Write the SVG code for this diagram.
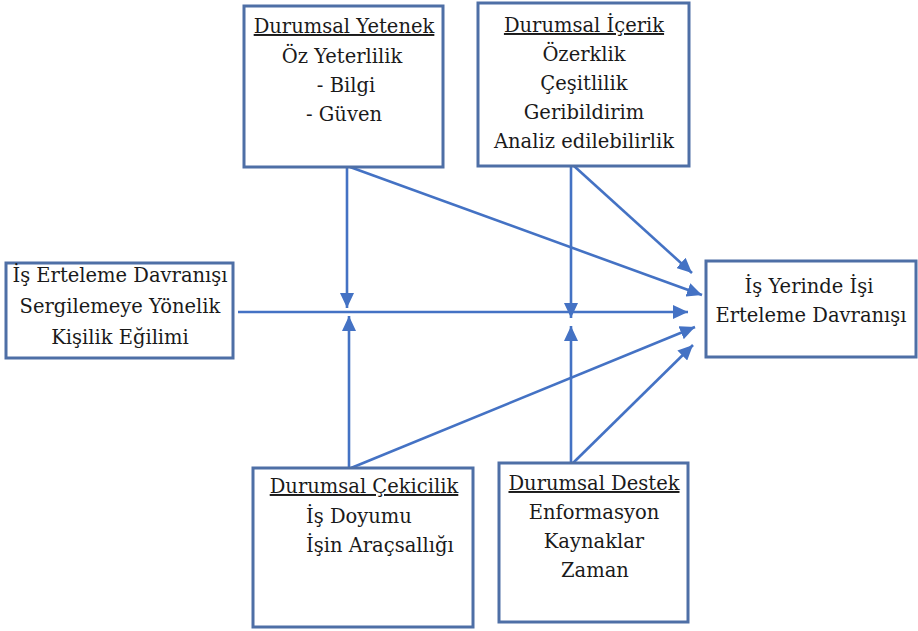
<svg xmlns="http://www.w3.org/2000/svg" width="918" height="631" viewBox="0 0 918 631">
<style>
.box{fill:#fff;stroke:#4e6fa6;stroke-width:3}
text{font-family:"DejaVu Serif","Liberation Serif",serif;font-size:19.5px;fill:#1a1a1a;text-anchor:middle}
.tl{text-anchor:start}
.u{text-decoration:underline}
.c{fill:none;stroke:#4472c4;stroke-width:2.6}
</style>
<defs>
<marker id="ah" markerUnits="userSpaceOnUse" markerWidth="16" markerHeight="14" refX="15" refY="7" orient="auto">
<path d="M0,0 L15,7 L0,14 Z" fill="#4472c4"/>
</marker>
</defs>
<rect width="918" height="631" fill="#fff"/>
<g id="connectors">
<line class="c" x1="347" y1="167" x2="347" y2="308" marker-end="url(#ah)"/>
<line class="c" x1="350" y1="167" x2="702" y2="295" marker-end="url(#ah)"/>
<line class="c" x1="571" y1="166" x2="571" y2="318" marker-end="url(#ah)"/>
<line class="c" x1="574" y1="166" x2="692" y2="273" marker-end="url(#ah)"/>
<line class="c" x1="238" y1="312" x2="688" y2="312" marker-end="url(#ah)"/>
<line class="c" x1="349" y1="468" x2="349" y2="316" marker-end="url(#ah)"/>
<line class="c" x1="351" y1="468" x2="695" y2="327" marker-end="url(#ah)"/>
<line class="c" x1="571" y1="463" x2="571" y2="326" marker-end="url(#ah)"/>
<line class="c" x1="573" y1="463" x2="693" y2="345" marker-end="url(#ah)"/>
</g>
<g id="yetenek">
<rect class="box" x="244" y="6" width="199" height="161"/>
<text class="u" x="344" y="33">Durumsal Yetenek</text>
<text x="342" y="63">Öz Yeterlilik</text>
<text x="346" y="92">- Bilgi</text>
<text x="344" y="121">- Güven</text>
</g>
<g id="icerik">
<rect class="box" x="478" y="3" width="211" height="163"/>
<text class="u" x="584" y="32">Durumsal İçerik</text>
<text x="584" y="61">Özerklik</text>
<text x="584" y="90">Çeşitlilik</text>
<text x="584" y="119">Geribildirim</text>
<text x="584" y="148">Analiz edilebilirlik</text>
</g>
<g id="kisilik">
<rect class="box" x="6" y="263" width="227" height="95"/>
<text x="120" y="282">İş Erteleme Davranışı</text>
<text x="120" y="313">Sergilemeye Yönelik</text>
<text x="120" y="344">Kişilik Eğilimi</text>
</g>
<g id="erteleme">
<rect class="box" x="706" y="261" width="210" height="96"/>
<text x="809" y="293">İş Yerinde İşi</text>
<text x="811" y="322">Erteleme Davranışı</text>
</g>
<g id="cekicilik">
<rect class="box" x="253" y="468" width="220" height="159"/>
<text class="u" x="364" y="493">Durumsal Çekicilik</text>
<text class="tl" x="306" y="523">İş Doyumu</text>
<text class="tl" x="306" y="552">İşin Araçsallığı</text>
</g>
<g id="destek">
<rect class="box" x="499" y="463" width="189" height="159"/>
<text class="u" x="594" y="490">Durumsal Destek</text>
<text x="594" y="519">Enformasyon</text>
<text x="594" y="548">Kaynaklar</text>
<text x="595" y="577">Zaman</text>
</g>
</svg>
